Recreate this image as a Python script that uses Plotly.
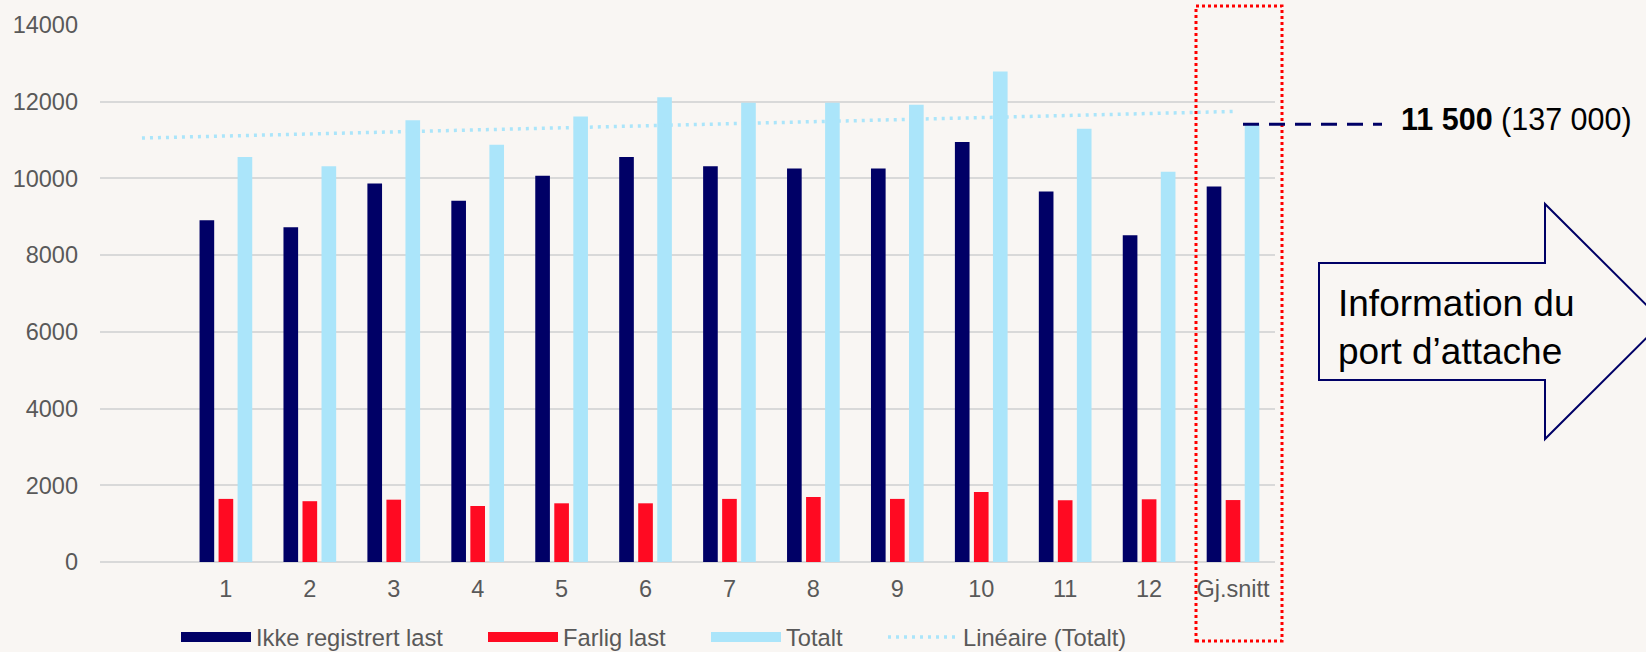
import numpy as np
import plotly.graph_objects as go

# ---------------- data ----------------
categories = ["1", "2", "3", "4", "5", "6", "7", "8", "9", "10", "11", "12", "Gj.snitt"]
ikke_registrert = [8910, 8730, 9870, 9420, 10070, 10560, 10320, 10260, 10260, 10950, 9660, 8520, 9790]
farlig_last = [1645, 1585, 1625, 1460, 1530, 1530, 1645, 1695, 1645, 1825, 1610, 1635, 1615]
totalt = [10560, 10320, 11520, 10875, 11615, 12115, 11975, 11970, 11920, 12785, 11295, 10175, 11415]
y_tick_values = [0, 2000, 4000, 6000, 8000, 10000, 12000, 14000]
series_names = ["Ikke registrert last", "Farlig last", "Totalt", "Linéaire (Totalt)"]
highlight_text = "<b>11 500</b> (137 000)"
arrow_text = "Information du<br>port d’attache"
trend_backward_periods = 1

# ---------------- style ----------------
W, H = 1646, 652
L, R, T, B = 100, 371, 25, 90
PW, PH = W - L - R, H - T - B
BG = "#F9F6F3"
NAVY = "#000066"
RED = "#FF0A22"
LIGHT = "#ABE5FA"
GRID = "#D9D9D9"
TXT = "#595959"
FONT = "Arial, Liberation Sans, sans-serif"
LEGEND_X = [176, 483, 706, 883]   # pixel positions of the legend entries
LEGEND_Y = 637


def px(xp):
    return (xp - L) / PW


def py(yp):
    return (H - B - yp) / PH


legend_ids = ["legend", "legend2", "legend3", "legend4"]
x_pos = np.arange(1, len(categories) + 1)
colors = [NAVY, RED, LIGHT]
values = [ikke_registrert, farlig_last, totalt]

fig = go.Figure()

# legend entries (wide swatches)
for name, col, lg in zip(series_names[:3], colors, legend_ids[:3]):
    fig.add_trace(go.Scatter(x=[None], y=[None], mode="lines", name=name, legend=lg,
                             line=dict(color=col, width=12.5), hoverinfo="skip"))

for name, col, vals in zip(series_names[:3], colors, values):
    fig.add_trace(go.Bar(x=x_pos, y=vals, name=name, marker=dict(color=col, line=dict(width=0)),
                         showlegend=False))

# linear trendline of Totalt
slope, intercept = np.polyfit(x_pos, totalt, 1)
trend_x = np.array([x_pos[0] - trend_backward_periods, x_pos[-1]])
trend_y = slope * trend_x + intercept
fig.add_trace(go.Scatter(x=trend_x, y=trend_y, mode="lines", name=series_names[3], legend=legend_ids[3],
                         line=dict(color=LIGHT, width=3.5, dash="3px,5px")))

y_max = y_tick_values[-1]

shapes = [
    # red dotted highlight box
    dict(type="rect", xref="paper", yref="paper", x0=px(1196), x1=px(1282), y0=py(641), y1=py(6),
         line=dict(color="#FF0000", width=3, dash="dot"), fillcolor="rgba(0,0,0,0)", layer="above"),
    # dashed leader line at the average total
    dict(type="line", xref="paper", yref="paper", x0=px(1243), x1=px(1382),
         y0=totalt[-1] / y_max, y1=totalt[-1] / y_max,
         line=dict(color=NAVY, width=3, dash="16px,10px"), layer="above"),
]

arrow_pts = [(1319, 263), (1545, 263), (1545, 204), (1663, 321.5), (1545, 439), (1545, 380), (1319, 380)]
path = "M " + " L ".join(f"{px(a):.5f},{py(b):.5f}" for a, b in arrow_pts) + " Z"
shapes.append(dict(type="path", xref="paper", yref="paper", path=path,
                   line=dict(color=NAVY, width=2), fillcolor="rgba(0,0,0,0)", layer="above"))

annotations = [
    dict(text=highlight_text, xref="paper", yref="paper", x=px(1399), y=py(119),
         xanchor="left", yanchor="middle", showarrow=False,
         font=dict(size=30.5, color="#000000", family=FONT)),
    dict(text=arrow_text, xref="paper", yref="paper", x=px(1336), y=py(327),
         xanchor="left", yanchor="middle", align="left", showarrow=False,
         font=dict(size=37, color="#000000", family=FONT)),
]

legend_style = dict(orientation="h", xref="container", yref="container",
                    y=1 - LEGEND_Y / H, xanchor="left", yanchor="middle",
                    itemwidth=70, font=dict(size=23.7, color=TXT), bgcolor="rgba(0,0,0,0)")

layout_legends = {lg: dict(legend_style, x=xl / W) for lg, xl in zip(legend_ids, LEGEND_X)}

fig.update_layout(
    width=W, height=H,
    margin=dict(l=L, r=R, t=T, b=B, autoexpand=False),
    paper_bgcolor=BG, plot_bgcolor=BG,
    font=dict(family=FONT, size=23.7, color=TXT),
    barmode="group", bargap=0.32, bargroupgap=0.23,
    shapes=shapes, annotations=annotations,
    xaxis=dict(range=[-0.5, len(categories) + 0.5], tickvals=x_pos, ticktext=categories,
               showgrid=False, zeroline=False, showline=False, ticks="", ticklabelstandoff=10,
               tickfont=dict(size=23.5, color=TXT)),
    yaxis=dict(range=[0, y_max], tickvals=y_tick_values, tickformat="d",
               showgrid=True, gridcolor=GRID, gridwidth=1.5,
               zeroline=True, zerolinecolor=GRID, zerolinewidth=1.5,
               showline=False, ticks="", ticklabelstandoff=21,
               tickfont=dict(size=23.5, color=TXT)),
    **layout_legends,
)

fig.write_html(
    "out.html",
    config={"displayModeBar": False},
    post_script=f"document.body.style.margin='0';document.body.style.padding='0';"
                f"document.body.style.background='{BG}';",
)
